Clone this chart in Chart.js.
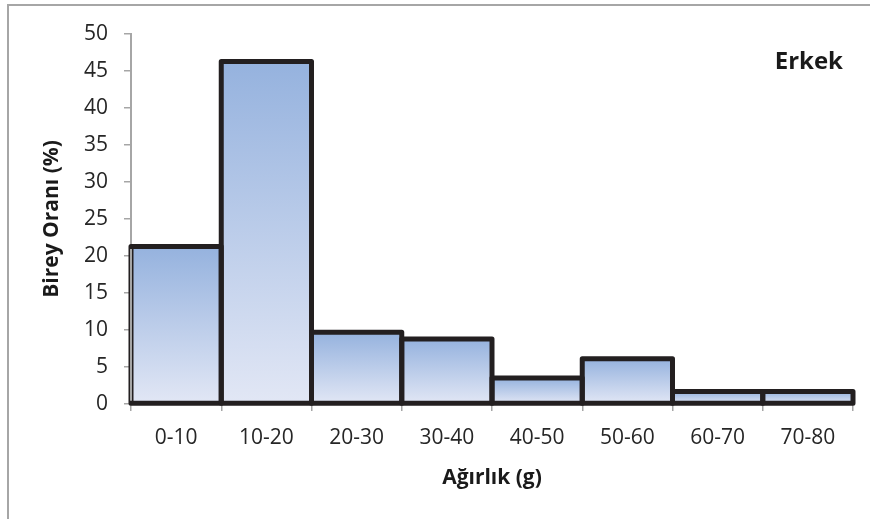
<!DOCTYPE html>
<html lang="tr">
<head>
<meta charset="utf-8">
<title>Erkek - Ağırlık dağılımı</title>
<script src="https://cdn.jsdelivr.net/npm/chart.js@4/dist/chart.umd.min.js"></script>
<style>
  html, body { margin: 0; padding: 0; background: #ffffff; overflow: hidden; }
  #wrap { position: relative; width: 870px; height: 519px; }
  #frame {
    position: absolute; left: 7px; top: 4px; width: 900px; height: 600px;
    border: 2px solid #a6a6a6; box-sizing: border-box; pointer-events: none;
  }
  canvas { position: absolute; left: 0; top: 0; }
</style>
</head>
<body>
<div id="wrap">
  <canvas id="chart" width="870" height="519"></canvas>
  <div id="frame"></div>
</div>
<script>
// Weight classes (g) and share of individuals (%)
const weightClasses = ['0-10', '10-20', '20-30', '30-40', '40-50', '50-60', '60-70', '70-80'];
const shareValues = [21.3, 46.3, 9.7, 8.8, 3.5, 6.1, 1.7, 1.7];
const yTicks = { min: 0, max: 50, step: 5 };

const chartTitle = 'Erkek';
const xTitle = 'Ağırlık (g)';
const yTitle = 'Birey Oranı (%)';

const FONT = "'Open Sans', 'Noto Sans', sans-serif";
const AXIS_GREY = '#a6a6a6';
const TEXT = '#262626';

// Vertical gradient for each bar, from its top down to the baseline
function barGradient(context) {
  const chart = context.chart;
  const yScale = chart.scales.y;
  if (!chart.chartArea || !yScale || context.parsed == null) return '#b9c9e8';
  const top = yScale.getPixelForValue(context.parsed.y);
  const base = yScale.getPixelForValue(0);
  if (!isFinite(top) || !isFinite(base) || top === base) return '#b9c9e8';
  const g = chart.ctx.createLinearGradient(0, top, 0, base);
  g.addColorStop(0, '#95b2de');
  g.addColorStop(1, '#e2e7f5');
  return g;
}

// Dark outline centred on each bar edge, so neighbouring bars share one line;
// the value axis line is laid back over the first bar's left edge
const barOutline = {
  id: 'barOutline',
  afterDatasetsDraw(chart) {
    const ctx = chart.ctx;
    const meta = chart.getDatasetMeta(0);
    ctx.save();
    ctx.strokeStyle = '#231f20';
    ctx.lineWidth = 5;
    ctx.lineJoin = 'round';
    meta.data.forEach((bar) => {
      const p = bar.getProps(['x', 'y', 'base', 'width'], true);
      const left = p.x - p.width / 2;
      ctx.strokeRect(left, p.y, p.width, p.base - p.y);
    });
    const yScale = chart.scales.y;
    const first = meta.data[0].getProps(['y', 'base'], true);
    ctx.strokeStyle = AXIS_GREY;
    ctx.lineWidth = 2;
    ctx.beginPath();
    ctx.moveTo(yScale.right, first.y + 2.5);
    ctx.lineTo(yScale.right, first.base - 2.5);
    ctx.stroke();
    ctx.restore();
  }
};

// Group label in the upper-right corner of the plot
const cornerLabel = {
  id: 'cornerLabel',
  afterDraw(chart) {
    const { ctx, chartArea } = chart;
    ctx.save();
    ctx.font = `bold 24px ${FONT}`;
    ctx.fillStyle = '#1a1a1a';
    ctx.textAlign = 'right';
    ctx.textBaseline = 'middle';
    ctx.fillText(chartTitle, chartArea.right - 10, chartArea.top + 28);
    ctx.restore();
  }
};

const whiteBackground = {
  id: 'whiteBackground',
  beforeDraw(chart) {
    const ctx = chart.ctx;
    ctx.save();
    ctx.fillStyle = '#ffffff';
    ctx.fillRect(0, 0, chart.width, chart.height);
    ctx.restore();
  }
};

new Chart(document.getElementById('chart'), {
  type: 'bar',
  data: {
    labels: weightClasses,
    datasets: [{
      data: shareValues,
      backgroundColor: barGradient,
      borderWidth: 0,
      barPercentage: 1,
      categoryPercentage: 1
    }]
  },
  options: {
    responsive: false,
    animation: false,
    devicePixelRatio: 1,
    layout: { padding: { left: 8, top: 34, right: 17, bottom: 0 } },
    plugins: {
      legend: { display: false },
      tooltip: { enabled: false },
      title: { display: false }
    },
    scales: {
      x: {
        afterFit(scale) { scale.height = 115; },
        grid: {
          display: true,
          drawOnChartArea: false,
          drawTicks: true,
          tickLength: 7,
          color: AXIS_GREY,
          lineWidth: 1.5,
          offset: true
        },
        border: { display: true, color: AXIS_GREY, width: 2 },
        ticks: {
          color: TEXT,
          padding: 14,
          maxRotation: 0,
          font: { family: FONT, size: 21 }
        },
        title: {
          display: true,
          text: xTitle,
          color: '#1a1a1a',
          padding: { top: 0, bottom: 28 },
          font: { family: FONT, size: 21, weight: 'bold' }
        }
      },
      y: {
        min: yTicks.min,
        max: yTicks.max,
        afterFit(scale) { scale.width = 123; },
        grid: {
          display: true,
          drawOnChartArea: false,
          drawTicks: true,
          tickLength: 7,
          color: AXIS_GREY,
          lineWidth: 1.5
        },
        border: { display: true, color: AXIS_GREY, width: 2 },
        ticks: {
          stepSize: yTicks.step,
          color: TEXT,
          padding: 16,
          font: { family: FONT, size: 21 }
        },
        title: {
          display: true,
          text: yTitle,
          color: '#1a1a1a',
          padding: { top: 31, bottom: 0 },
          font: { family: FONT, size: 21, weight: 'bold' }
        }
      }
    }
  },
  plugins: [whiteBackground, barOutline, cornerLabel]
});
</script>
</body>
</html>
